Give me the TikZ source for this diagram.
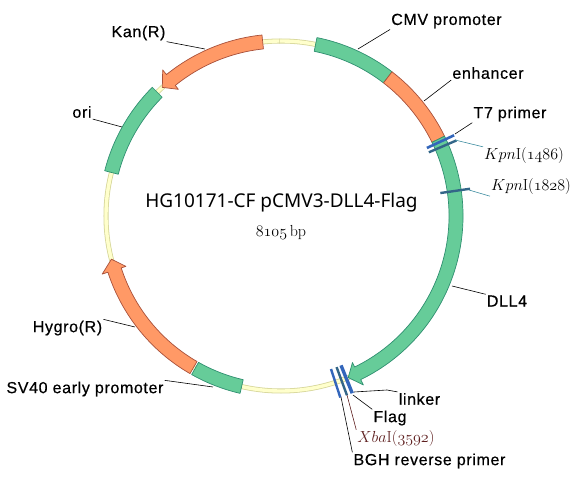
\documentclass[tikz,border=0pt]{standalone}
\usepackage{fix-cm}
\usepackage{fontspec}
\setsansfont[LetterSpace=4,FakeBold=0.5]{Liberation Sans}
\newfontfamily\titlefont{Noto Sans}
\definecolor{geneGreen}{HTML}{66CC99}
\definecolor{geneGreenDark}{HTML}{2F8F70}
\definecolor{geneOrange}{HTML}{FF9966}
\definecolor{geneOrangeDark}{HTML}{A8503A}
\definecolor{ringFill}{HTML}{FFFFCC}
\definecolor{ringEdge}{HTML}{D6D69A}
\definecolor{siteBlue}{HTML}{3366BB}
\definecolor{siteSlate}{HTML}{336688}
\definecolor{siteTeal}{HTML}{3D8CA0}
\definecolor{siteRed}{HTML}{5E1F1F}
\newcommand{\oldnum}[1]{$\mathnormal{#1}$}

\begin{document}
\begin{tikzpicture}[
            x=1pt, y=1pt,
            greenpart/.style={draw=geneGreenDark, fill=geneGreen, line width=0.7pt, line join=round},
            orangepart/.style={draw=geneOrangeDark, fill=geneOrange, line width=0.7pt, line join=round},
            partlabel/.style={font=\sffamily\fontsize{16}{18}\selectfont, inner sep=1pt},
            sitelabel/.style={font=\fontsize{16}{18}\selectfont, inner sep=1pt},
            leader/.style={draw=black, line width=0.6pt}
        ]
            \useasboundingbox (-281,216) rectangle (293,-261);

            \def\rRing{175}
            \def\rIn{168}
            \def\rOut{182}

            % RING
            \draw[ringEdge, line width=5pt] (0,0) circle[radius=\rRing];
            \draw[ringFill, line width=3.4pt] (0,0) circle[radius=\rRing];
            \draw[ringEdge, line width=0.5pt] (90.5:\rRing-2.5) -- (90.5:\rRing+2.5);

            % BOXES
            \foreach \a/\b/\kind in {78.6/52.4/greenpart, 52.4/26/orangepart, 165.6/135/greenpart, 257/240.6/greenpart} {
                \draw[\kind] (\a:\rOut) arc[start angle=\a, end angle=\b, radius=\rOut]
                    -- (\b:\rIn) arc[start angle=\b, end angle=\a, radius=\rIn] -- cycle;
            }

            % ARROWS
            \foreach \a/\b/\tip/\kind in {26/-64/-67.4/greenpart, 96/129/132.7/orangepart, 240/198/194.3/orangepart} {
                \draw[\kind] (\a:\rOut) arc[start angle=\a, end angle=\b, radius=\rOut]
                    -- (\b:188) -- (\tip:\rRing) -- (\b:163)
                    -- (\b:\rIn) arc[start angle=\b, end angle=\a, radius=\rIn] -- cycle;
            }

            % SITES
            \foreach \a/\col/\wd in {25/siteBlue/2.6pt, 23.3/siteSlate/2.4pt, 8.2/siteSlate/2.4pt, -71.9/siteBlue/2.4pt, -69.8/siteSlate/2.4pt, -68.1/siteBlue/3.4pt} {
                \draw[\col, line width=\wd] (\a:161) -- (\a:191);
            }

            % TITLE
            \node[font=\titlefont\fontsize{19}{21}\selectfont] (title) at (0.5,13) {HG10171-CF pCMV3-DLL4-Flag};
            \node[sitelabel] (size) at (0,-17) {\oldnum{8105}\,bp};

            % LABELS
            \foreach \name/\pos/\corner/\x/\y/\txt in {
                kan/{-142.5,183}/south east/-76/167/{Kan(R)},
                ori/{-199,104}/south east/-159/89/{ori},
                cmv/{165.5,195}/south west/77/167/{CMV promoter},
                enh/{207,143}/south west/143/115/{enhancer},
                tseven/{229,102}/south west/174/82/{T7 primer},
                dll/{226,-85}/north west/171/-70/{DLL4},
                flag/{109,-202}/north west/72/-179/{Flag},
                bgh/{148.5,-245}/north west/60/-181/{BGH reverse primer},
                sv/{-196,-173}/north east/-68/-171/{SV40 early promoter},
                hygro/{-213.5,-112}/north east/-146/-111/{Hygro(R)}} {
                \node[partlabel] (\name) at (\pos) {\txt};
                \coordinate (\name End) at (\x,\y);
                \draw[leader] (\name.\corner) -- (\name End);
            }

            \node[partlabel] (linker) at (138.5,-183) {linker};
            \coordinate (linkerEnd) at (73,-176);
            \coordinate (linkerBend) at (106,-174);
            \draw[leader] (linker.north west) -- (linkerBend) -- (linkerEnd);

            % ENZYMES
            \foreach \name/\pos/\corner/\x/\y/\col/\num in {
                kpna/{243,60}/north west/174/76/siteTeal/1486,
                kpnb/{250,29}/south west/188/26/siteTeal/1828} {
                \node[sitelabel] (\name) at (\pos) {$Kpn$I(\oldnum{\num})};
                \coordinate (\name End) at (\x,\y);
                \draw[\col, line width=0.6pt] (\name.\corner) -- (\name End);
            }

            \node[sitelabel, text=siteRed] (xba) at (115,-223) {$Xba$I(\oldnum{3592})};
            \coordinate (xbaEnd) at (66,-179);
            \draw[siteRed, line width=0.6pt] (xba.north west) -- (xbaEnd);
        \end{tikzpicture}
\end{document}
